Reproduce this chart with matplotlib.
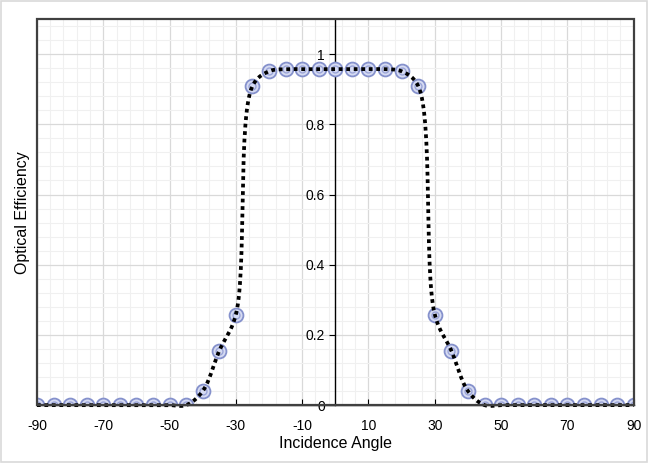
import numpy as np
import matplotlib.pyplot as plt
from matplotlib.patches import Rectangle

# incidence angle (deg) and optical efficiency
angles = [-90, -85, -80, -75, -70, -65, -60, -55, -50, -45, -40, -35, -30, -25, -20, -15,
          -10, -5, 0, 5, 10, 15, 20, 25, 30, 35, 40, 45, 50, 55, 60, 65, 70, 75, 80, 85, 90]
efficiency = [0, 0, 0, 0, 0, 0, 0, 0, 0, 0, 0.04, 0.155, 0.258, 0.909, 0.951, 0.957,
              0.957, 0.957, 0.957, 0.957, 0.957, 0.957, 0.951, 0.909, 0.258, 0.155, 0.04,
              0, 0, 0, 0, 0, 0, 0, 0, 0, 0]
x_ticks = [-90, -70, -50, -30, -10, 10, 30, 50, 70, 90]
y_ticks = [0, 0.2, 0.4, 0.6, 0.8, 1.0]
y_tick_labels = ["0", "0.2", "0.4", "0.6", "0.8", "1"]


def smooth_line(x, y, sx, sy, n=30, alpha=0.5):
    # centripetal Catmull-Rom in screen-like scaled space (smoothed line, no overshoot)
    p = np.column_stack([np.asarray(x, float) * sx, np.asarray(y, float) * sy])
    p = np.vstack([2 * p[0] - p[1], p, 2 * p[-1] - p[-2]])
    out = []
    for i in range(1, len(p) - 2):
        p0, p1, p2, p3 = p[i - 1], p[i], p[i + 1], p[i + 2]
        t0 = 0.0
        t1 = t0 + np.linalg.norm(p1 - p0) ** alpha
        t2 = t1 + np.linalg.norm(p2 - p1) ** alpha
        t3 = t2 + np.linalg.norm(p3 - p2) ** alpha
        if t2 - t1 < 1e-9:
            continue
        t = np.linspace(t1, t2, n, endpoint=False)[:, None]
        a1 = (t1 - t) / (t1 - t0) * p0 + (t - t0) / (t1 - t0) * p1
        a2 = (t2 - t) / (t2 - t1) * p1 + (t - t1) / (t2 - t1) * p2
        a3 = (t3 - t) / (t3 - t2) * p2 + (t - t2) / (t3 - t2) * p3
        b1 = (t2 - t) / (t2 - t0) * a1 + (t - t0) / (t2 - t0) * a2
        b2 = (t3 - t) / (t3 - t1) * a2 + (t - t1) / (t3 - t1) * a3
        out.append((t2 - t) / (t2 - t1) * b1 + (t - t1) / (t2 - t1) * b2)
    out.append(p[-2][None, :])
    out = np.vstack(out)
    return out[:, 0] / sx, out[:, 1] / sy


plt.rcParams['font.family'] = ['Liberation Sans', 'DejaVu Sans']
plt.rcParams['axes.unicode_minus'] = False

fig = plt.figure(figsize=(6.48, 4.63), dpi=100)
fig.patches.append(Rectangle((0.002, 0.002), 0.996, 0.995, transform=fig.transFigure,
                             fill=False, edgecolor='#d9d9d9', linewidth=1.2))
ax = fig.add_axes([0.057, 0.125, 0.921, 0.834])

ax.set_xlim(-90, 90)
ax.set_ylim(0, 1.1)

# grid
ax.set_xticks(x_ticks)
ax.set_xticks(np.arange(-90, 91, 4), minor=True)
ax.set_yticks(y_ticks)
ax.set_yticks(np.arange(0, 1.1, 0.04), minor=True)
ax.grid(which='minor', color='#f0f0f0', linewidth=0.8)
ax.grid(which='major', color='#d9d9d9', linewidth=0.9)
ax.set_axisbelow(True)

# y axis crossing at x=0
ax.spines['left'].set_position(('data', 0))
ax.spines['left'].set_color('black')
ax.spines['left'].set_linewidth(1.0)
ax.spines['bottom'].set_color('black')
ax.spines['bottom'].set_linewidth(1.0)
ax.spines['top'].set_visible(False)
ax.spines['right'].set_visible(False)
ax.add_patch(Rectangle((0, 0), 1, 1, transform=ax.transAxes, fill=False,
                       edgecolor='#404040', linewidth=1.6, clip_on=False, zorder=5))

ax.set_yticklabels(y_tick_labels)
ax.tick_params(axis='x', which='major', direction='in', length=4, labelsize=10, pad=10)
ax.tick_params(axis='y', which='major', direction='out', length=4, labelsize=10)
ax.tick_params(which='minor', length=0)

sx, sy = 597 / 180, 350
xs, ys = smooth_line(angles, efficiency, sx, sy)
ax.plot(angles, efficiency, linestyle='none', marker='o', markersize=10,
        markerfacecolor='#d6dbf2', markeredgecolor='#8591cc', markeredgewidth=1.3, zorder=3)
ax.plot(angles, efficiency, linestyle='none', marker='o', markersize=5,
        markerfacecolor='none', markeredgecolor='#9ca6d8', markeredgewidth=1.0, zorder=3)
ax.plot(xs, ys, color='black', linestyle=(0, (1, 1)), linewidth=2.7,
        dash_capstyle='butt', zorder=4, clip_on=False)

ax.set_xlabel('Incidence Angle', fontsize=11.5, labelpad=2)
fig.text(0.034, 0.54, 'Optical Efficiency', rotation=90, ha='center', va='center', fontsize=11.5)

fig.savefig('out.png', dpi=100)
